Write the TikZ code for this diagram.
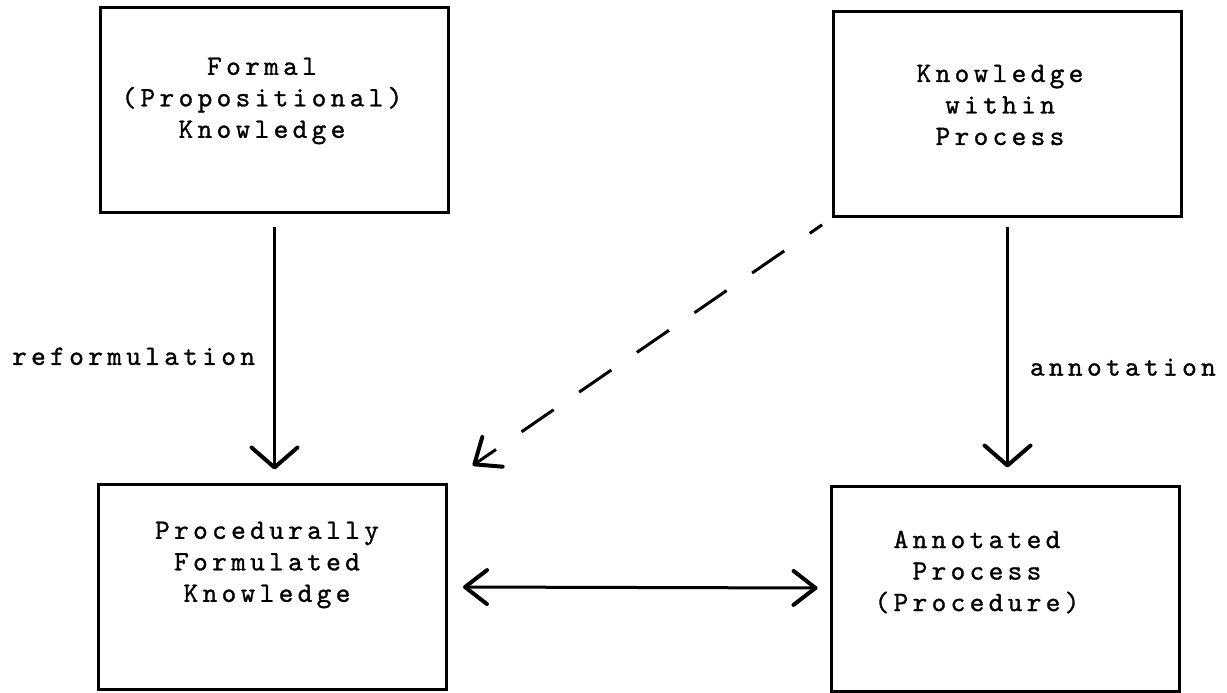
\documentclass[tikz,border=0pt]{standalone}
\usepackage{fontspec}
\newfontfamily\typed{lmmono10-regular.otf}[LetterSpace=15.4,FakeBold=1]
\usetikzlibrary{arrows.meta}
\begin{document}
\begin{tikzpicture}[x=1pt,y=-1pt,line width=3pt,
  frame/.style={draw,minimum width=348pt,minimum height=205pt},
  txt/.style={font=\typed\fontsize{28}{31.5}\selectfont,align=center,inner sep=0pt},
  arr/.style={-{Straight Barb[length=20pt,width=46pt,line width=4pt,round]}},
  darr/.style={{Straight Barb[length=22pt,width=34pt,line width=4pt,round]}-{Straight Barb[length=22pt,width=34pt,line width=4pt,round]}},
  dsh/.style={dash pattern=on 39pt off 31pt,dash phase=24pt,-{Straight Barb[length=22pt,width=36pt,line width=4pt,round]}}]
\useasboundingbox (0,0) rectangle (1227,693);
\node[frame] (formal) at (274.5,110) {};
\node[frame] (within) at (1007.5,114) {};
\node[frame] (proc) at (272.5,586.5) {};
\node[frame] (annot) at (1005,588.5) {};
\node[txt] (formaltxt) at (262,101) {Formal\\(Propositional)\\Knowledge};
\node[txt] (withintxt) at (1000,105) {Knowledge\\within\\Process};
\node[txt] (proctxt) at (267,565) {Procedurally\\Formulated\\Knowledge};
\node[txt] (annottxt) at (977,572) {Annotated\\Process\\(Procedure)};
\draw[arr,shorten <=13pt,shorten >=13pt] (formal) -- (formal |- proc.north) node[txt,pos=.53,left=18pt] (reform) {reformulation};
\draw[arr,shorten <=9pt,shorten >=17pt] (within) -- (within |- annot.north) node[txt,pos=.56,right=21pt] (annotate) {annotation};
\draw[dsh,shorten <=12pt,shorten >=30pt] (within.south west) -- (proc.north east);
\draw[darr,shorten <=15pt,shorten >=12pt] (proc) -- (annot);
\end{tikzpicture}
\end{document}
